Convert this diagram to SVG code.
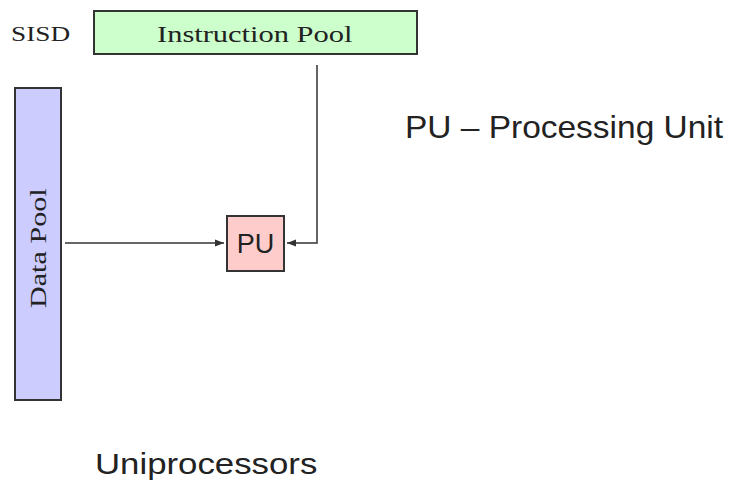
<svg xmlns="http://www.w3.org/2000/svg" width="741" height="482" viewBox="0 0 741 482">
<style>
.serif{font-family:"Liberation Serif","DejaVu Serif",serif;fill:#222}
.sans{font-family:"Liberation Sans","DejaVu Sans",sans-serif;fill:#222}
.box{stroke:#333;stroke-width:2}
.conn{stroke:#333;stroke-width:1.5;fill:none}
</style>
<defs>
<marker id="ah" viewBox="0 0 10 10" refX="10" refY="5" markerWidth="6" markerHeight="6" orient="auto" markerUnits="strokeWidth">
<path d="M0,1 L10,5 L0,9 Z" fill="#333"/>
</marker>
</defs>
<rect width="741" height="482" fill="#fff"/>
<text class="serif" transform="translate(11,41) scale(1.24,1)" font-size="22">SISD</text>
<g id="instruction-pool">
<rect class="box" x="94" y="11" width="323" height="43" fill="#ccffcc"/>
<text class="serif" transform="translate(157,42) scale(1.27,1)" font-size="24">Instruction Pool</text>
</g>
<g id="data-pool">
<rect class="box" x="15" y="88" width="46" height="312" fill="#ccccff"/>
<text class="serif" transform="translate(46,308) rotate(-90) scale(1.31,1)" font-size="23">Data Pool</text>
</g>
<g id="pu">
<rect class="box" x="227" y="216" width="57" height="55" fill="#ffcccc"/>
<text class="sans" x="255.5" y="253" font-size="27" text-anchor="middle">PU</text>
</g>
<g id="connectors">
<path class="conn" d="M65,243 H224" marker-end="url(#ah)"/>
<path class="conn" d="M317,65 V243 H287" marker-end="url(#ah)"/>
</g>
<text class="sans" transform="translate(405,138) scale(1.08,1)" font-size="31">PU – Processing Unit</text>
<text class="sans" transform="translate(95,474) scale(1.16,1)" font-size="30">Uniprocessors</text>
</svg>
